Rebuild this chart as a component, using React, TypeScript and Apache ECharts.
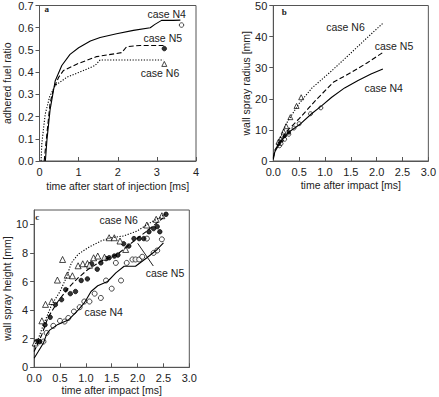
import React, { useEffect, useRef } from "react";
import * as echarts from "echarts";

// ---- panel a: adhered fuel ratio ----
const aN4T = [0.15, 0.19, 0.27, 0.4, 0.57, 0.78, 1.0, 1.3, 1.55, 1.97, 2.4, 2.83, 2.95, 3.12, 3.42, 3.6];
const aN4V = [0, 0.094, 0.23, 0.36, 0.43, 0.48, 0.51, 0.54, 0.556, 0.573, 0.588, 0.6, 0.615, 0.633, 0.633, 0.634];
const aN5T = [0.12, 0.19, 0.27, 0.36, 0.49, 0.61, 0.95, 1.46, 1.97, 2.1, 2.23, 2.57, 3.17];
const aN5V = [0, 0.124, 0.26, 0.325, 0.377, 0.407, 0.436, 0.47, 0.484, 0.488, 0.515, 0.52, 0.52];
const aN6T = [0.04, 0.06, 0.145, 0.26, 0.4, 0.7, 1.12, 1.42, 1.55, 3.17];
const aN6V = [0, 0.08, 0.21, 0.29, 0.34, 0.377, 0.407, 0.43, 0.455, 0.455];
const aMarkN4 = [[3.63, 0.612]];
const aMarkN5 = [[3.19, 0.506]];
const aMarkN6 = [[3.19, 0.437]];

// ---- panel b: wall spray radius ----
const bN4T = [0, 0.03, 0.16, 0.31, 0.53, 0.74, 0.94, 1.13, 1.38, 1.64, 1.89, 2.12];
const bN4V = [0.5, 3, 6.7, 9.4, 12, 15.2, 17.8, 20.5, 23.5, 25.9, 28, 29.6];
const bN5T = [0, 0.03, 0.25, 0.5, 0.82, 1.16, 1.5, 1.82, 2.12];
const bN5V = [1, 3.5, 9.4, 13.6, 19.5, 25.3, 28.4, 31.6, 34.9];
const bN6T = [0, 0.1, 0.25, 0.5, 0.75, 1.13, 1.5, 1.8, 2.12];
const bN6V = [1.5, 6, 12, 18.5, 23.5, 29, 34.7, 39.4, 44.3];
const bN4MarkT = [0.12, 0.15, 0.22, 0.3, 0.4, 0.5, 0.72, 0.92];
const bN4MarkV = [4.9, 5.6, 7.0, 8.6, 10.6, 12, 15.2, 17.1];
const bN5MarkT = [0.1, 0.16, 0.22, 0.3];
const bN5MarkV = [5.5, 6.6, 8.0, 9.2];
const bN6MarkT = [0.1, 0.14, 0.2, 0.25, 0.33, 0.45, 0.54];
const bN6MarkV = [6.2, 7.2, 9.5, 11.2, 14.1, 17.7, 20.5];

// ---- panel c: wall spray height ----
const cN4T = [0, 0.08, 0.18, 0.24, 0.3, 0.46, 0.66, 0.85, 0.97, 1.1, 1.23, 1.42, 1.58, 1.74, 1.96, 2.18, 2.38, 2.5];
const cN4V = [0.63, 1.1, 1.7, 2.3, 2.6, 3.0, 3.3, 4.0, 4.5, 5.3, 5.7, 6.0, 6.6, 7.07, 7.07, 7.66, 8.24, 8.7];
const cN5T = [0, 0.15, 0.27, 0.46, 0.66, 0.85, 1.04, 1.29, 1.61, 1.93, 2.18, 2.5];
const cN5V = [1.1, 2.3, 3.5, 4.6, 5.55, 6.25, 6.84, 7.42, 7.9, 8.83, 9.53, 10.47];
const cN6T = [0, 0.08, 0.18, 0.34, 0.5, 0.62, 0.72, 0.85, 1.04, 1.29, 1.48, 1.73, 1.99, 2.24, 2.44, 2.55];
const cN6V = [1.45, 2.0, 2.97, 4.38, 5.3, 6.25, 7.3, 7.9, 8.36, 8.83, 9.06, 9.18, 9.53, 10.1, 10.5, 10.75];
const cN4MarkT = [0.08, 0.18, 0.24, 0.37, 0.5, 0.59, 0.66, 0.77, 0.88, 0.97, 1.07, 1.17, 1.29, 1.39, 1.5, 1.58, 1.68, 1.79, 1.9, 1.96, 2.03, 2.09, 2.18, 2.31, 2.38, 2.47];
const cN4MarkV = [1.8, 1.8, 2.4, 2.9, 3.25, 3.2, 3.45, 3.9, 4.2, 4.6, 4.6, 5.15, 4.85, 6.07, 5.5, 7.3, 6.07, 7.3, 7.54, 7.54, 7.54, 7.73, 9.0, 8.0, 8.17, 8.95];
const cN5MarkT = [0.05, 0.11, 0.21, 0.31, 0.41, 0.53, 0.61, 0.7, 0.8, 0.91, 1.03, 1.11, 1.22, 1.29, 1.39, 1.45, 1.55, 1.62, 1.73, 1.83, 1.93, 2.03, 2.12, 2.22, 2.31, 2.38, 2.43, 2.55];
const cN5MarkV = [1.8, 1.8, 2.97, 3.5, 4.38, 4.73, 5.43, 5.15, 5.3, 6.07, 6.18, 7.24, 6.86, 7.3, 7.6, 7.66, 7.78, 7.85, 8.64, 8.48, 9.0, 9.0, 9.0, 9.48, 9.7, 9.84, 9.48, 10.7];
const cN6MarkT = [0.02, 0.15, 0.22, 0.34, 0.45, 0.55, 0.64, 0.74, 0.85, 0.94, 1.03, 1.07, 1.15, 1.23, 1.36, 1.45, 1.55, 1.66, 1.77, 2.18, 2.36, 2.47];
const cN6MarkV = [1.7, 3.25, 4.4, 4.6, 6.1, 7.54, 6.44, 6.4, 7.1, 7.24, 7.26, 7.14, 7.66, 7.78, 7.7, 9.06, 9.06, 8.83, 8.24, 9.95, 10.35, 10.6];

// ---- tick values ----
const aXTicks = [0, 1, 2, 3, 4];
const aYTicks = [0, 0.1, 0.2, 0.3, 0.4, 0.5, 0.6, 0.7];
const bXTicks = [0, 0.5, 1, 1.5, 2, 2.5, 3];
const bYTicks = [0, 10, 20, 30, 40, 50];
const cXTicks = [0, 0.5, 1, 1.5, 2, 2.5, 3];
const cYTicks = [0, 2, 4, 6, 8, 10];

const zip = (t: number[], v: number[]) => t.map((x, i) => [x, v[i]]);

const FONT = "'Liberation Sans', Arial, sans-serif";
const FRAME = "#555";

function xAxis(grid: number, min: number, max: number, ticks: number[], name: string, dec: number, gap: number) {
  return {
    type: "value",
    gridIndex: grid,
    min,
    max,
    name,
    nameLocation: "middle",
    nameGap: gap,
    nameTextStyle: { fontFamily: FONT, fontSize: 10.5, color: "#222" },
    axisLine: { show: true, onZero: false, lineStyle: { color: FRAME, width: 1 } },
    axisTick: { show: true, inside: true, length: 4, lineStyle: { color: FRAME }, customValues: ticks },
    axisLabel: {
      fontFamily: FONT,
      fontSize: 11,
      color: "#222",
      margin: 5,
      customValues: ticks,
      formatter: (v: number) => v.toFixed(dec),
    },
    splitLine: { show: false },
  };
}

function yAxis(grid: number, min: number, max: number, ticks: number[], name: string, dec: number, gap: number) {
  return {
    type: "value",
    gridIndex: grid,
    min,
    max,
    name,
    nameLocation: "middle",
    nameGap: gap,
    nameRotate: 90,
    nameTextStyle: { fontFamily: FONT, fontSize: 10.5, color: "#222" },
    axisLine: { show: true, onZero: false, lineStyle: { color: FRAME, width: 1 } },
    axisTick: { show: true, inside: false, length: 4, lineStyle: { color: FRAME }, customValues: ticks },
    axisLabel: {
      fontFamily: FONT,
      fontSize: 11,
      color: "#222",
      margin: 6,
      customValues: ticks,
      formatter: (v: number) => v.toFixed(dec),
    },
    splitLine: { show: false },
  };
}

function lineSeries(idx: number, data: number[][], type: any) {
  return {
    type: "line",
    xAxisIndex: idx,
    yAxisIndex: idx,
    data,
    symbol: "none",
    smooth: false,
    lineStyle: { color: "#000", width: 1.1, type },
    silent: true,
  };
}

function markSeries(idx: number, data: number[][], symbol: string, filled: boolean, size: number) {
  return {
    type: "scatter",
    xAxisIndex: idx,
    yAxisIndex: idx,
    data,
    symbol,
    symbolSize: size,
    itemStyle: { color: filled ? "#000" : "#fff", borderColor: "#000", borderWidth: 0.9 },
    silent: true,
  };
}

const DASH = [5, 2.5];
const DOT = [1.2, 1.6];

export default function App() {
  const ref = useRef<HTMLDivElement>(null);
  useEffect(() => {
    if (!ref.current) return;
    const chart = echarts.init(ref.current, undefined, { renderer: "svg" });
    const caseText = (text: string, x: number, y: number) => ({
      type: "text",
      x,
      y,
      style: { text, fill: "#222", font: `10.5px ${FONT}`, align: "center", verticalAlign: "middle" },
    });
    const panelText = (text: string, x: number, y: number) => ({
      type: "text",
      x,
      y,
      style: { text, fill: "#222", font: `bold 9px 'Liberation Serif', 'DejaVu Serif', serif`, align: "center", verticalAlign: "middle" },
    });
    chart.setOption({
      animation: false,
      backgroundColor: "#fff",
      grid: [
        { left: 39.5, top: 4.5, width: 156.5, height: 156.5, show: true, borderColor: FRAME, borderWidth: 1, backgroundColor: "transparent" },
        { left: 273.3, top: 4.3, width: 159, height: 156.7, show: true, borderColor: FRAME, borderWidth: 1, backgroundColor: "transparent" },
        { left: 32.3, top: 210, width: 157, height: 157.3, show: true, borderColor: FRAME, borderWidth: 1, backgroundColor: "transparent" },
      ],
      xAxis: [
        xAxis(0, 0, 4, aXTicks, "time after start of injection [ms]", 0, 19),
        xAxis(1, 0, 3, bXTicks, "time after impact [ms]", 1, 18),
        xAxis(2, 0, 3, cXTicks, "time after impact [ms]", 1, 17),
      ],
      yAxis: [
        yAxis(0, 0, 0.7, aYTicks, "adhered fuel ratio", 1, 27),
        yAxis(1, 0, 50, bYTicks, "wall spray radius [mm]", 0, 20),
        yAxis(2, 0, 11, cYTicks, "wall spray height [mm]", 0, 22),
      ],
      series: [
        lineSeries(0, zip(aN4T, aN4V), "solid"),
        lineSeries(0, zip(aN5T, aN5V), DASH),
        lineSeries(0, zip(aN6T, aN6V), DOT),
        markSeries(0, aMarkN4, "circle", false, 4.5),
        markSeries(0, aMarkN5, "circle", true, 4.5),
        markSeries(0, aMarkN6, "triangle", false, 5),

        lineSeries(1, zip(bN4T, bN4V), "solid"),
        lineSeries(1, zip(bN5T, bN5V), DASH),
        lineSeries(1, zip(bN6T, bN6V), DOT),
        markSeries(1, zip(bN4MarkT, bN4MarkV), "circle", false, 4),
        markSeries(1, zip(bN5MarkT, bN5MarkV), "circle", true, 3.5),
        markSeries(1, zip(bN6MarkT, bN6MarkV), "triangle", false, 5),

        lineSeries(2, zip(cN4T, cN4V), "solid"),
        lineSeries(2, zip(cN5T, cN5V), DASH),
        lineSeries(2, zip(cN6T, cN6V), DOT),
        markSeries(2, zip(cN4MarkT, cN4MarkV), "circle", false, 5),
        markSeries(2, zip(cN5MarkT, cN5MarkV), "circle", true, 4.5),
        markSeries(2, zip(cN6MarkT, cN6MarkV), "triangle", false, 6),
      ],
      graphic: [
        caseText("case N4", 166.7, 14),
        caseText("case N5", 162.8, 38.3),
        caseText("case N6", 160, 73.3),
        caseText("case N6", 345.5, 26.7),
        caseText("case N5", 394, 46),
        caseText("case N4", 383.7, 88.3),
        caseText("case N6", 118.7, 220),
        caseText("case N5", 165, 272.7),
        caseText("case N4", 103.7, 312.3),
        {
          type: "line",
          shape: { x1: 153.3, y1: 266, x2: 137.7, y2: 243.3 },
          style: { stroke: "#222", lineWidth: 1 },
        },
        panelText("a", 46.7, 9.3),
        panelText("b", 284.3, 12.3),
        panelText("c", 37.3, 216.7),
      ],
    });
    return () => chart.dispose();
  }, []);
  return <div ref={ref} style={{ position: "fixed", left: 0, top: 0, width: 439, height: 397 }} />;
}
